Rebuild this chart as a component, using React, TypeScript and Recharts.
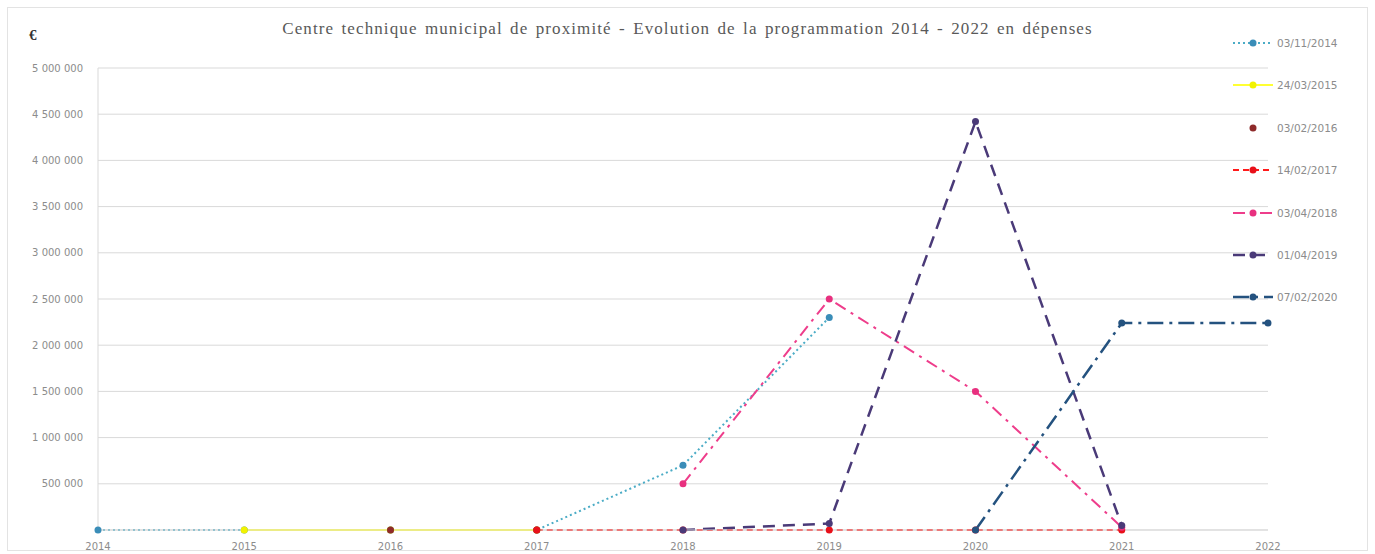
import React from 'react';
import { LineChart, Line, XAxis, YAxis, CartesianGrid } from 'recharts';

// Years on the horizontal axis
const years = ['2014', '2015', '2016', '2017', '2018', '2019', '2020', '2021', '2022'];

// Programmed spending (€) per vote date, one value per year
const v03112014 = [0, 0, 0, 0, 700000, 2300000, null, null, null];
const v24032015 = [null, 0, 0, 0, null, null, null, null, null];
const v03022016 = [null, null, 0, 0, null, null, null, null, null];
const v14022017 = [null, null, null, 0, 0, 0, 0, 0, null];
const v03042018 = [null, null, null, null, 500000, 2500000, 1500000, 30000, null];
const v01042019 = [null, null, null, null, 0, 70000, 4420000, 50000, null];
const v07022020 = [null, null, null, null, null, null, 0, 2240000, 2240000];

const yTicks = [0, 500000, 1000000, 1500000, 2000000, 2500000, 3000000, 3500000, 4000000, 4500000, 5000000];

const seriesValues: (number | null)[][] = [
  v03112014, v24032015, v03022016, v14022017, v03042018, v01042019, v07022020,
];

type SeriesStyle = {
  key: string;
  name: string;
  stroke: string;
  marker: string;
  dash?: string;
  width: number;
  noLine?: boolean;
};

const seriesStyles: SeriesStyle[] = [
  { key: 's0', name: '03/11/2014', stroke: '#4BACC6', marker: '#3A8DB8', dash: '2 3', width: 2 },
  { key: 's1', name: '24/03/2015', stroke: '#FFFF33', marker: '#F2F200', width: 2 },
  { key: 's2', name: '03/02/2016', stroke: 'none', marker: '#8E2A2A', width: 0, noLine: true },
  { key: 's3', name: '14/02/2017', stroke: '#FF1A1A', marker: '#E8101A', dash: '6 4', width: 2.2 },
  { key: 's4', name: '03/04/2018', stroke: '#EE3D8B', marker: '#E8307F', dash: '12 6 3 6', width: 2 },
  { key: 's5', name: '01/04/2019', stroke: '#4A3A78', marker: '#4A3A78', dash: '12 8', width: 2.5 },
  { key: 's6', name: '07/02/2020', stroke: '#24527F', marker: '#24527F', dash: '16 6 3 6', width: 2.5 },
];

const data = years.map((year, i) => {
  const row: Record<string, string | number | null> = { year };
  seriesStyles.forEach((s, k) => {
    row[s.key] = seriesValues[k][i];
  });
  return row;
});

// Thousands grouped with a non-breaking space so the label stays on one line
const formatEuro = (v: number) =>
  v === 0 ? '' : String(v).replace(/\B(?=(\d{3})+(?!\d))/g, '\u00a0');

const textColor = '#8C8C8C';
const tickFont = 'DejaVu Sans, sans-serif';

function LegendIcon({ s }: { s: SeriesStyle }) {
  return (
    <svg width={42} height={12} style={{ display: 'block' }}>
      {!s.noLine && (
        <line
          x1={1}
          y1={6}
          x2={41}
          y2={6}
          stroke={s.stroke}
          strokeWidth={s.width}
          strokeDasharray={s.dash}
        />
      )}
      <circle cx={21} cy={6} r={3.5} fill={s.marker} />
    </svg>
  );
}

export default function App() {
  return (
    <div style={{ position: 'absolute', left: 0, top: 0, width: 1375, height: 554, background: '#fff' }}>
      <div
        style={{
          position: 'absolute',
          left: 7,
          top: 7,
          width: 1361,
          height: 544,
          border: '1px solid #E3E3E3',
          boxSizing: 'border-box',
        }}
      />
      <div
        style={{
          position: 'absolute',
          left: 29,
          top: 27,
          fontFamily: 'Liberation Serif, serif',
          fontWeight: 'bold',
          fontSize: 15,
          color: '#333',
        }}
      >
        €
      </div>
      <div
        style={{
          position: 'absolute',
          left: 0,
          top: 19,
          width: 1375,
          textAlign: 'center',
          fontFamily: 'Liberation Serif, serif',
          fontSize: 17,
          lineHeight: '20px',
          color: '#595959',
          letterSpacing: 1.1,
          wordSpacing: 2,
        }}
      >
        Centre technique municipal de proximité - Evolution de la programmation 2014 - 2022 en dépenses
      </div>

      <LineChart
        width={1375}
        height={554}
        data={data}
        margin={{ top: 68, right: 107, bottom: 0, left: 38 }}
        style={{ position: 'absolute', left: 0, top: 0 }}
      >
        <CartesianGrid vertical={false} stroke="#D9D9D9" strokeWidth={1} />
        <XAxis
          dataKey="year"
          height={24}
          axisLine={{ stroke: '#D9D9D9' }}
          tickLine={false}
          tickSize={0}
          tickMargin={13}
          interval={0}
          tick={{ fill: textColor, fontSize: 10, fontFamily: tickFont }}
        />
        <YAxis
          width={60}
          domain={[0, 5000000]}
          ticks={yTicks}
          interval={0}
          tickFormatter={formatEuro}
          axisLine={{ stroke: '#D9D9D9' }}
          tickLine={false}
          tickSize={0}
          tickMargin={15}
          tick={{ fill: textColor, fontSize: 10, fontFamily: tickFont, width: 120 }}
        />
        {seriesStyles.map((s) => (
          <Line
            key={s.key}
            dataKey={s.key}
            name={s.name}
            type="linear"
            stroke={s.stroke}
            strokeWidth={s.width}
            strokeDasharray={s.dash}
            dot={{ r: 3.5, fill: s.marker, stroke: 'none', strokeDasharray: '0' }}
            activeDot={false}
            isAnimationActive={false}
          />
        ))}
      </LineChart>

      {seriesStyles.map((s, i) => (
        <div
          key={s.key}
          style={{
            position: 'absolute',
            left: 1232,
            top: 37 + i * 42.4,
            display: 'flex',
            alignItems: 'center',
            gap: 3,
            fontFamily: tickFont,
            fontSize: 10.5,
            color: textColor,
          }}
        >
          <LegendIcon s={s} />
          <span>{s.name}</span>
        </div>
      ))}
    </div>
  );
}
